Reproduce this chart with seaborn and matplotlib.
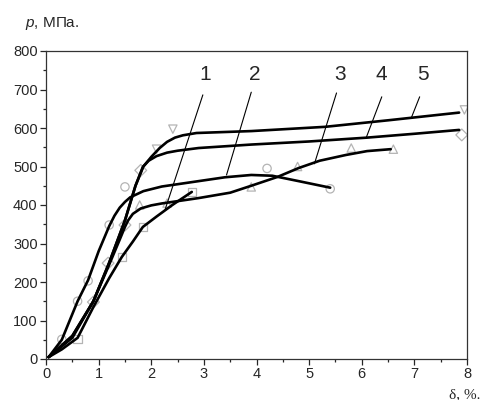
import pandas as pd
import numpy as np
import matplotlib
matplotlib.use('Agg')
import matplotlib.pyplot as plt
import seaborn as sns

# curve traces (delta %, p MPa)
c1_x = [0.05, 0.3, 0.6, 0.9, 1.2, 1.44, 1.65, 1.84, 2.1, 2.4, 2.77]
c1_y = [5, 25, 55, 135, 210, 265, 305, 343, 370, 400, 434]

c2_x = [0.05, 0.3, 0.6, 0.8, 1.0, 1.2, 1.3, 1.4, 1.5, 1.6, 1.85, 2.2, 2.9, 3.4,
        3.9, 4.3, 4.8, 5.4]
c2_y = [5, 50, 150, 205, 280, 345, 372, 393, 408, 420, 436, 448, 462, 472,
        478, 476, 462, 445]

c3_x = [0.05, 0.5, 0.9, 1.2, 1.4, 1.5, 1.56, 1.65, 1.8, 2.0, 2.2, 2.9, 3.5, 3.9,
        4.4, 4.8, 5.2, 5.7, 6.1, 6.55]
c3_y = [5, 55, 150, 245, 310, 343, 360, 377, 391, 399, 404, 418, 432, 450,
        473, 496, 515, 530, 540, 545]

c4_x = [0.05, 0.5, 0.9, 1.2, 1.5, 1.7, 1.84, 1.95, 2.1, 2.3, 2.5, 2.9, 3.9, 5.0,
        6.1, 7.0, 7.85]
c4_y = [5, 60, 150, 250, 360, 450, 499, 515, 527, 536, 541, 548, 557, 565,
        575, 585, 595]

c5_x = [0.05, 0.5, 0.9, 1.2, 1.5, 1.7, 1.85, 2.0, 2.16, 2.3, 2.45, 2.6, 2.86,
        3.9, 5.3, 6.5, 7.85]
c5_y = [5, 60, 150, 250, 360, 450, 500, 525, 548, 564, 575, 581, 587,
        592, 603, 620, 640]

# experimental points (faint hollow markers)
m1_x = [0.6, 1.44, 1.84, 2.77]
m1_y = [52, 265, 343, 434]
m2_x = [0.3, 0.6, 0.8, 1.2, 1.5, 4.2, 5.4]
m2_y = [51, 150, 203, 348, 447, 495, 442]
m3_x = [1.78, 2.3, 3.9, 4.78, 5.8, 6.6]
m3_y = [400, 405, 447, 500, 548, 545]
m4_x = [0.9, 1.18, 1.5, 1.8, 7.9]
m4_y = [148, 249, 348, 490, 582]
m5_x = [2.1, 2.41, 7.95]
m5_y = [545, 597, 647]

labels = ['1', '2', '3', '4', '5']
label_x = [3.02, 3.97, 5.58, 6.38, 7.17]
label_y = [738, 738, 738, 738, 738]
# leader lines: start under the label, end on the curve
lead_x0 = [2.98, 3.90, 5.52, 6.38, 7.10]
lead_y0 = [686, 693, 691, 681, 681]
lead_x1 = [2.26, 3.43, 5.10, 6.09, 6.94]
lead_y1 = [387, 478, 507, 577, 626]

curves = pd.concat([
    pd.DataFrame({'x': cx, 'y': cy, 'curve': name})
    for name, cx, cy in zip(labels, [c1_x, c2_x, c3_x, c4_x, c5_x],
                            [c1_y, c2_y, c3_y, c4_y, c5_y])
], ignore_index=True)

points = pd.concat([
    pd.DataFrame({'x': mx, 'y': my, 'curve': name})
    for name, mx, my in zip(labels, [m1_x, m2_x, m3_x, m4_x, m5_x],
                            [m1_y, m2_y, m3_y, m4_y, m5_y])
], ignore_index=True)

sns.set_style('ticks')
plt.rcParams['font.family'] = ['Liberation Sans', 'DejaVu Sans']
plt.rcParams['mathtext.fontset'] = 'custom'
plt.rcParams['mathtext.it'] = 'Liberation Sans:italic'
plt.rcParams['mathtext.rm'] = 'Liberation Sans'

fig = plt.figure(figsize=(4.87, 4.0), dpi=100)
ax = fig.add_axes([0.0945, 0.1025, 0.8645, 0.77])

sns.scatterplot(data=points, x='x', y='y', style='curve',
                markers={'1': 's', '2': 'o', '3': '^', '4': 'D', '5': 'v'},
                facecolor='white', edgecolor='#b4b4b4', linewidth=0.9,
                s=36, legend=False, ax=ax, zorder=2)
sns.lineplot(data=curves, x='x', y='y', units='curve', estimator=None,
             sort=False, color='black', linewidth=1.9, ax=ax, zorder=3)

for i in range(len(labels)):
    ax.plot([lead_x0[i], lead_x1[i]], [lead_y0[i], lead_y1[i]],
            color='black', linewidth=0.8, zorder=4)
    ax.text(label_x[i], label_y[i], labels[i], ha='center', va='center',
            fontsize=15)

ax.set_xlim(0, 8)
ax.set_ylim(0, 800)
ax.set_xticks(range(0, 9))
ax.set_yticks(range(0, 801, 100))
ax.set_xticks(np.arange(0.5, 8, 1), minor=True)
ax.set_yticks(np.arange(50, 800, 100), minor=True)
ax.tick_params(axis='both', which='major', direction='out', length=4,
               width=0.9, labelsize=10.5, pad=2)
ax.tick_params(axis='both', which='minor', direction='out', length=2.5,
               width=0.9)
for side in ['top', 'right', 'left', 'bottom']:
    ax.spines[side].set_visible(True)
    ax.spines[side].set_color('#333333')
    ax.spines[side].set_linewidth(0.9)
ax.set_xlabel('')
ax.set_ylabel('')

fig.text(0.052, 0.94, r'$p$, МПа.', fontsize=11, ha='left', va='center')
fig.text(0.955, 0.03, 'δ, %.', fontsize=11, ha='center', va='top',
         family=['Liberation Serif', 'DejaVu Serif'])

fig.savefig('out.png', dpi=100)
